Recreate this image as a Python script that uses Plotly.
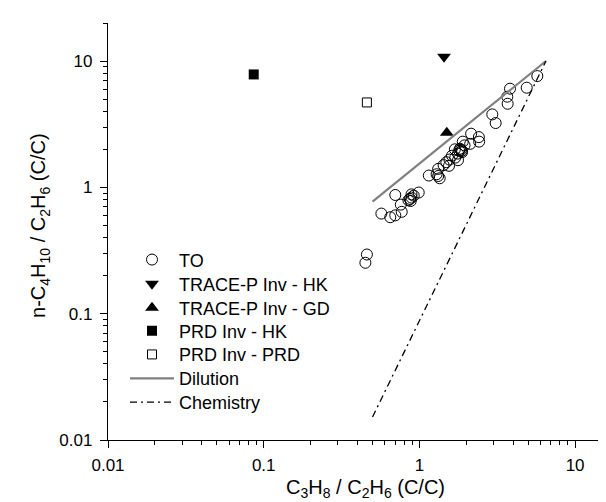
import plotly.graph_objects as go

# ---- data ----
to_x = [5.72, 4.89, 3.82, 3.67, 3.69, 2.94, 3.09, 2.41, 2.42, 2.15, 2.12, 1.90, 1.87, 1.82,
        1.77, 1.69, 1.77, 1.62, 1.56, 1.49, 1.55, 1.32, 1.29, 1.35, 1.32, 1.15, 0.99, 0.89,
        0.87, 0.89, 0.85, 0.70, 0.76, 0.77, 0.57, 0.65, 0.70, 0.46, 0.45, 1.85, 1.88, 1.80,
        0.88, 1.70, 1.43, 0.92, 1.95]
to_y = [7.6, 6.15, 6.04, 5.22, 4.59, 3.78, 3.23, 2.50, 2.30, 2.66, 2.21, 2.30, 1.94, 2.02,
        1.85, 2.00, 1.64, 1.78, 1.66, 1.58, 1.48, 1.40, 1.27, 1.18, 1.23, 1.24, 0.91, 0.88,
        0.81, 0.83, 0.79, 0.87, 0.73, 0.64, 0.62, 0.58, 0.60, 0.294, 0.253, 1.98, 1.90, 1.95,
        0.78, 1.72, 1.50, 0.86, 2.15]

tracep_hk_x = [1.44]
tracep_hk_y = [10.8]
tracep_gd_x = [1.50]
tracep_gd_y = [2.7]
prd_hk_x = [0.0863]
prd_hk_y = [7.83]
prd_prd_x = [0.46]
prd_prd_y = [4.7]

dilution_x = [0.50, 6.5]
dilution_y = [0.77, 10.0]
chemistry_x = [0.50, 6.5]
chemistry_y = [0.0152, 10.0]

major_vals = [0.01, 0.1, 1, 10]
major_text = ["0.01", "0.1", "1", "10"]
minor_vals = [m * d for d in [0.01, 0.1, 1, 10] for m in range(2, 10)]

x_title = "C<sub>3</sub>H<sub>8</sub> / C<sub>2</sub>H<sub>6</sub> (C/C)"
y_title = "n-C<sub>4</sub>H<sub>10</sub> / C<sub>2</sub>H<sub>6</sub> (C/C)"

FONT = "Liberation Sans, Arial, sans-serif"

# legend row centres (paper y) for each series
legend_rows = [0.432, 0.374, 0.3165, 0.2615, 0.2045, 0.147, 0.090]

fig = go.Figure()
fig.add_trace(go.Scatter(x=to_x, y=to_y, mode="markers", name="TO", legend="legend",
                         marker=dict(symbol="circle-open", size=11, color="black",
                                     line=dict(width=1, color="black"))))
fig.add_trace(go.Scatter(x=tracep_hk_x, y=tracep_hk_y, mode="markers", name="TRACE-P Inv - HK",
                         legend="legend2",
                         marker=dict(symbol="triangle-down", size=12, color="black")))
fig.add_trace(go.Scatter(x=tracep_gd_x, y=tracep_gd_y, mode="markers", name="TRACE-P Inv - GD",
                         legend="legend3",
                         marker=dict(symbol="triangle-up", size=12, color="black")))
fig.add_trace(go.Scatter(x=prd_hk_x, y=prd_hk_y, mode="markers", name="PRD Inv - HK",
                         legend="legend4",
                         marker=dict(symbol="square", size=10, color="black")))
fig.add_trace(go.Scatter(x=prd_prd_x, y=prd_prd_y, mode="markers", name="PRD Inv - PRD",
                         legend="legend5",
                         marker=dict(symbol="square-open", size=9, color="black",
                                     line=dict(width=1, color="black"))))
fig.add_trace(go.Scatter(x=dilution_x, y=dilution_y, mode="lines", name="Dilution",
                         legend="legend6",
                         line=dict(color="#808080", width=2.2)))
fig.add_trace(go.Scatter(x=chemistry_x, y=chemistry_y, mode="lines", name="Chemistry",
                         legend="legend7",
                         line=dict(color="black", width=1.3, dash="7px,4px,2px,4px")))

axis_common = dict(type="log", showgrid=False, zeroline=False, showline=True,
                   linecolor="black", linewidth=1.4, tickcolor="black", tickwidth=1.3,
                   tickvals=major_vals, ticktext=major_text,
                   tickfont=dict(family=FONT, size=17, color="black"))

minor_out = dict(tickvals=minor_vals, ticks="outside", ticklen=4, tickcolor="black", tickwidth=1.2)
minor_in = dict(tickvals=minor_vals, ticks="inside", ticklen=4, tickcolor="black", tickwidth=1.2)

legend_style = dict(xanchor="left", yanchor="middle", x=0.0336,
                    bgcolor="rgba(0,0,0,0)", borderwidth=0, itemwidth=44,
                    font=dict(family=FONT, size=18, color="black"))

layout_legends = {}
for i, ypos in enumerate(legend_rows):
    key = "legend" if i == 0 else f"legend{i + 1}"
    layout_legends[key] = dict(y=ypos, **legend_style)

fig.update_layout(
    width=606, height=502,
    margin=dict(l=100, r=0, t=15, b=70),
    paper_bgcolor="white", plot_bgcolor="white",
    font=dict(family=FONT, color="black"),
    xaxis=dict(range=[-2, 1.25], ticks="outside", ticklen=7, ticklabelstandoff=2,
               minor=minor_out, **axis_common),
    xaxis2=dict(range=[-2, 1.25], overlaying="x", side="top", anchor="y",
                ticks="inside", ticklen=7, showticklabels=False,
                minor=minor_in, **axis_common),
    yaxis=dict(range=[-2, 1.301], ticks="outside", ticklen=7, ticklabelstandoff=4,
               minor=minor_out, **axis_common),
    annotations=[
        dict(text=x_title, xref="paper", yref="paper", x=0.509, y=-0.117,
             xanchor="center", yanchor="middle", showarrow=False,
             font=dict(family=FONT, size=20, color="black")),
        dict(text=y_title, xref="paper", yref="paper", x=-0.135, y=0.515,
             xanchor="center", yanchor="middle", textangle=-90, showarrow=False,
             font=dict(family=FONT, size=20, color="black")),
    ],
    showlegend=True,
    **layout_legends,
)

fig.write_html("out.html")
